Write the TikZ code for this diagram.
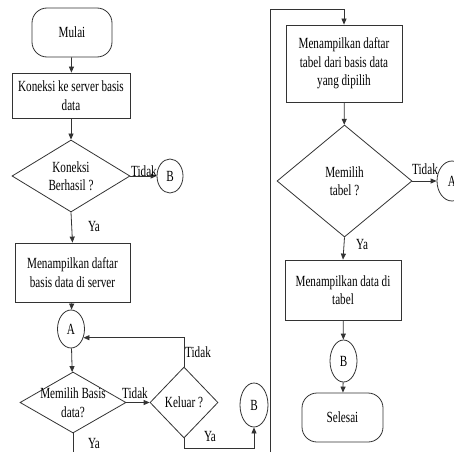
\documentclass[tikz,border=0pt]{standalone}
\usepackage{fontspec}
\setmainfont[FakeStretch=0.72]{Liberation Serif}
\usetikzlibrary{shapes.geometric,arrows.meta,calc}
\begin{document}
\begin{tikzpicture}[x=1pt,y=-1pt,
  font=\fontsize{15.5}{18.5}\selectfont,
  line/.style={draw=black!80,line width=0.8pt},
  arr/.style={line,-{Triangle[length=6pt,width=5pt]}},
  box/.style={line,rectangle,inner sep=0pt,align=center,fill=white},
  term/.style={box,rounded corners=15pt},
  dia/.style={line,diamond,inner sep=0pt,fill=white},
  conn/.style={line,ellipse,inner sep=0pt,fill=white},
  lbl/.style={inner sep=0pt,align=center},
]
\useasboundingbox (0,0) rectangle (454,452);
\clip (0,0) rectangle (454,452);
\fill[white] (0,0) rectangle (454,452);

% left column
\node[term,minimum width=80pt,minimum height=49pt] (mulai) at (72,32.5) {Mulai};
\node[box,minimum width=118pt,minimum height=45pt] (box1) at (71,95.5) {Koneksi ke server basis\\data};
\node[dia,minimum width=118pt,minimum height=72pt,
  label={[lbl]center:{Koneksi\\Berhasil ?}}] (d1) at (71,176) {};
\node[conn,minimum width=26pt,minimum height=34pt] (b1) at (170,176) {B};
\node[box,minimum width=115pt,minimum height=59pt] (box2) at (72.5,272.5) {Menampilkan daftar\\basis data di server};
\node[conn,minimum width=27pt,minimum height=38pt] (a1) at (71,329) {A};
\node[dia,minimum width=106pt,minimum height=61pt,
  label={[lbl]center:{Memilih Basis\\data?}}] (d2) at (73,402.5) {};
\node[dia,minimum width=68pt,minimum height=71pt,
  label={[lbl]center:{Keluar ?}}] (d3) at (184,402.5) {};
\node[conn,minimum width=28pt,minimum height=44pt] (b2) at (254,405) {B};

% right column
\node[box,minimum width=116pt,minimum height=77pt] (box3) at (344,63.5) {Menampilkan daftar\\tabel dari basis data\\yang dipilih};
\node[dia,minimum width=135pt,minimum height=112pt,
  label={[lbl]center:{Memilih\\tabel ?}}] (d4) at (344.5,181) {};
\node[conn,minimum width=30pt,minimum height=40pt] (a2) at (452,181) {A};
\node[box,minimum width=116pt,minimum height=60pt] (box4) at (343,290) {Menampilkan data di\\tabel};
\node[conn,minimum width=27pt,minimum height=42pt] (b3) at (343.5,361) {B};
\node[term,minimum width=81pt,minimum height=49pt] (selesai) at (342.5,417.5) {Selesai};

% connector coordinates
\coordinate (d2end) at (73,452);
\coordinate (c1) at (270,452);
\coordinate (c2) at (270,9);
\coordinate (d3low) at (184,448);

% connectors
\draw[arr] (mulai) -- (box1);
\draw[arr] (box1) -- (d1);
\draw[arr] (d1.east) -- (b1.west);
\draw[arr] (d1.south) -- (box2.north);
\draw[arr] (box2) -- (a1);
\draw[arr] (a1) -- (d2);
\draw[line] (d2.south) -- (d2end);
\draw[arr] (d2.east) -- (d3.west);
\draw[arr] (d3.north) |- (a1.-35);
\draw[arr] (d3.south) -- (d3low) -| (b2.south);
\draw[arr] (c1) -- (c2) -| (box3.north);
\draw[arr] (box3) -- (d4);
\draw[arr] (d4.east) -- (a2.west);
\draw[arr] (d4.south) -- (box4.north);
\draw[arr] (box4) -- (b3);
\draw[arr] (b3) -- (selesai);

% labels
\node[lbl] (t1) at (144,171) {Tidak};
\node[lbl] (y1) at (94,226) {Ya};
\node[lbl] (t2) at (135,393) {Tidak};
\node[lbl] (y2) at (94,443) {Ya};
\node[lbl] (t3) at (198,352) {Tidak};
\node[lbl] (y3) at (210,436) {Ya};
\node[lbl] (t4) at (425,169) {Tidak};
\node[lbl] (y4) at (362,244) {Ya};
\end{tikzpicture}
\end{document}
